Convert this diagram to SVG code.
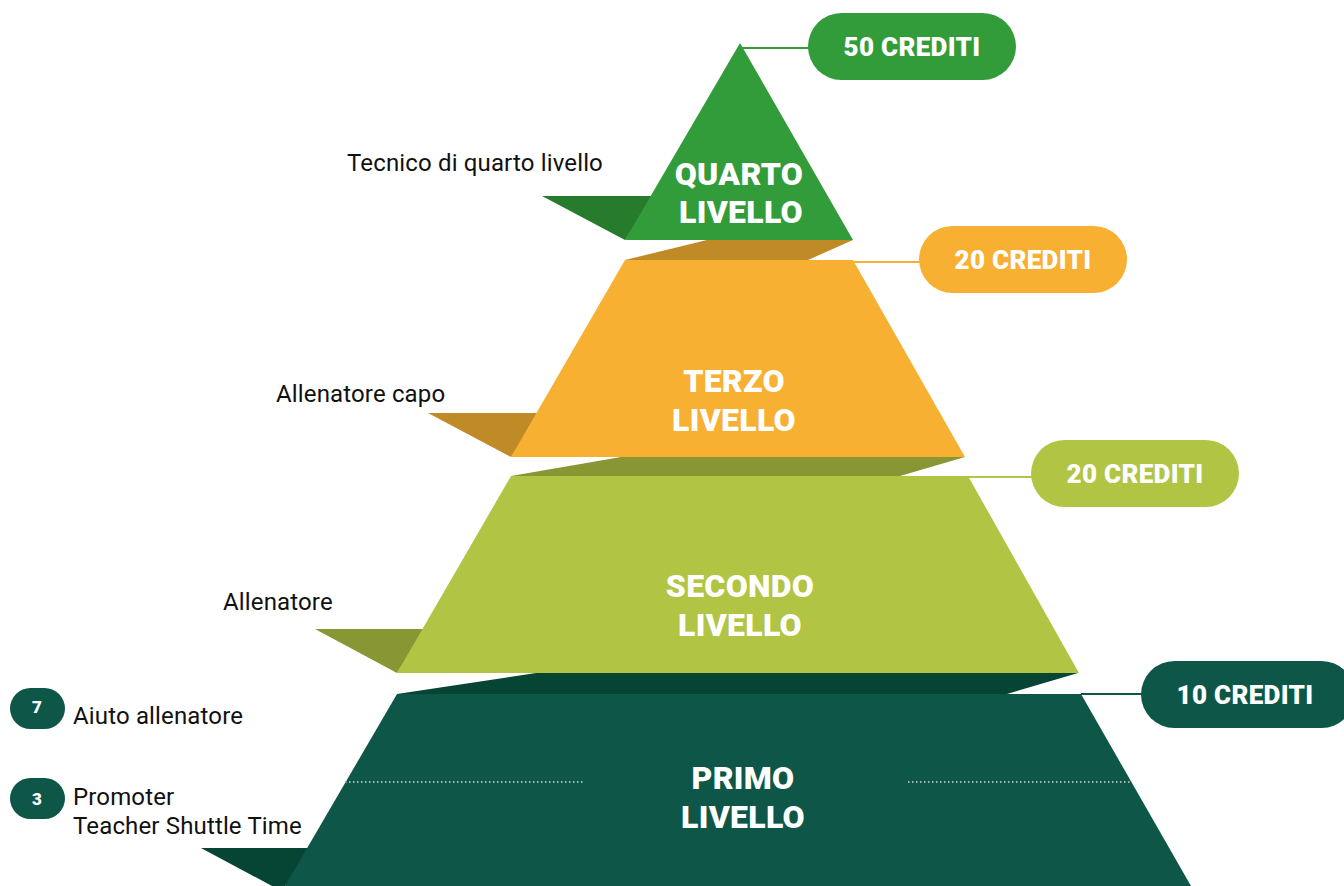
<svg xmlns="http://www.w3.org/2000/svg" width="1344" height="886" viewBox="0 0 1344 886">
<style>
.lbl{font-family:Roboto,"Liberation Sans",sans-serif;font-size:24px;fill:#111;letter-spacing:0.15px}
.title{font-family:Roboto,"Liberation Sans",sans-serif;font-weight:900;font-size:32px;fill:#fff;text-anchor:middle;letter-spacing:0.3px}
.pilltxt{font-family:Roboto,"Liberation Sans",sans-serif;font-weight:900;font-size:26px;fill:#fff;text-anchor:middle;letter-spacing:0.3px}
.badgetxt{font-family:Roboto,"Liberation Sans",sans-serif;font-weight:900;font-size:17px;fill:#fff;text-anchor:middle}
.dots{stroke:#9fb8ae;stroke-width:2;stroke-dasharray:1.5 2.5;fill:none}
</style>
<rect width="1344" height="886" fill="#fff"/>
<g id="connectors">
  <line x1="740" y1="48" x2="810" y2="48" stroke="#339c3a" stroke-width="2"/>
  <line x1="853" y1="262" x2="921" y2="262" stroke="#f7b032" stroke-width="2"/>
  <line x1="968" y1="477" x2="1033" y2="477" stroke="#b2c443" stroke-width="2"/>
  <line x1="1081" y1="694" x2="1144" y2="694" stroke="#0e5748" stroke-width="2"/>
</g>
<g id="primo">
  <polygon points="201,848 320,848 285,886 272,886" fill="#064434"/>
  <polygon points="397,694 536,673 1078,673 1007,694" fill="#064434"/>
  <polygon points="397,694 1081,694 1191,886 285,886" fill="#0e5748"/>
  <line class="dots" x1="345" y1="782" x2="583" y2="782"/>
  <line class="dots" x1="908" y1="782" x2="1131" y2="782"/>
  <text class="title" x="743" y="789">PRIMO</text>
  <text class="title" x="743" y="828">LIVELLO</text>
</g>
<g id="secondo">
  <polygon points="315,629 425,629 397,673" fill="#899634"/>
  <polygon points="511,476 621,457 965,457 900,476" fill="#899634"/>
  <polygon points="511,476 968,476 1079,673 397,673" fill="#b2c443"/>
  <text class="title" x="740" y="597">SECONDO</text>
  <text class="title" x="740" y="636">LIVELLO</text>
</g>
<g id="terzo">
  <polygon points="428,413 540,413 511,457" fill="#c08a27"/>
  <polygon points="625,260 707,240 853,240 808,260" fill="#c08a27"/>
  <polygon points="625,260 853,260 965,457 511,457" fill="#f7b032"/>
  <text class="title" x="734" y="392">TERZO</text>
  <text class="title" x="734" y="431">LIVELLO</text>
</g>
<g id="quarto">
  <polygon points="542,196 655,196 625,240" fill="#267b2c"/>
  <polygon points="740,43 853,240 625,240" fill="#339c3a"/>
  <text class="title" x="739" y="185">QUARTO</text>
  <text class="title" x="741" y="223">LIVELLO</text>
</g>
<g id="pill-50">
  <rect x="808" y="13" width="208" height="67" rx="33.5" fill="#339c3a"/>
  <text class="pilltxt" x="912" y="56">50 CREDITI</text>
</g>
<g id="pill-20a">
  <rect x="919" y="226" width="208" height="67" rx="33.5" fill="#f7b032"/>
  <text class="pilltxt" x="1023" y="269">20 CREDITI</text>
</g>
<g id="pill-20b">
  <rect x="1031" y="440" width="208" height="67" rx="33.5" fill="#b2c443"/>
  <text class="pilltxt" x="1135" y="483">20 CREDITI</text>
</g>
<g id="pill-10">
  <rect x="1141" y="661" width="214" height="67" rx="33.5" fill="#0e5748"/>
  <text class="pilltxt" x="1245" y="704">10 CREDITI</text>
</g>
<g id="label-quarto"><text class="lbl" x="347" y="171">Tecnico di quarto livello</text></g>
<g id="label-terzo"><text class="lbl" x="276" y="402">Allenatore capo</text></g>
<g id="label-secondo"><text class="lbl" x="223" y="610">Allenatore</text></g>
<g id="badge-7">
  <rect x="10" y="688" width="55" height="41" rx="20.5" fill="#0e5748"/>
  <text class="badgetxt" x="37" y="713">7</text>
  <text class="lbl" x="73" y="724">Aiuto allenatore</text>
</g>
<g id="badge-3">
  <rect x="10" y="778" width="55" height="41" rx="20.5" fill="#0e5748"/>
  <text class="badgetxt" x="37" y="805">3</text>
  <text class="lbl" x="73" y="805">Promoter</text>
  <text class="lbl" x="73" y="834">Teacher Shuttle Time</text>
</g>
</svg>
